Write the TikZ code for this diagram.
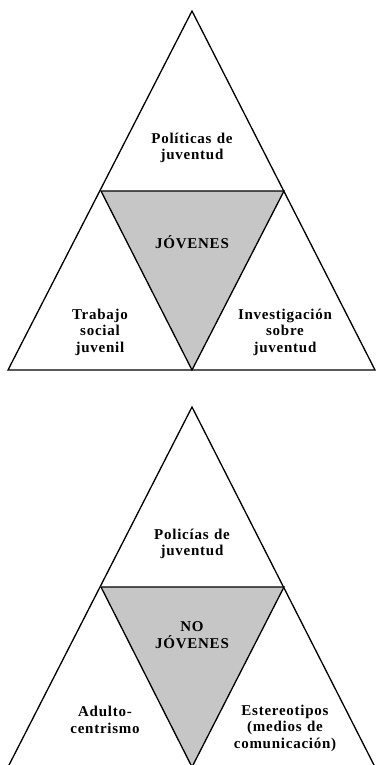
\documentclass[tikz,border=0pt]{standalone}
\usepackage{fontspec}
\setmainfont{Liberation Serif}
\newfontfamily\lblfont[LetterSpace=5,WordSpace=1.2]{Liberation Serif}
\begin{document}
\begin{tikzpicture}[x=1pt,y=-1pt,
  edge/.style={draw=black,line width=1.3pt,line join=miter},
  core/.style={fill=gray!45},
  lbl/.style={font=\lblfont\bfseries\fontsize{15}{16.5}\selectfont,align=center,inner sep=0pt,text=black}]
\useasboundingbox (0,0) rectangle (375,765);
% top triangle
\coordinate (A1) at (192,11);
\coordinate (L1) at (8,370);
\coordinate (R1) at (375,370);
\coordinate (ML1) at (101,191);
\coordinate (MR1) at (284,191);
\coordinate (MB1) at (192,370);
\fill[core] (ML1) -- (MR1) -- (MB1) -- cycle;
\draw[edge] (A1) -- (L1) -- (R1) -- cycle;
\draw[edge] (ML1) -- (MR1) -- (MB1) -- cycle;
% bottom triangle
\coordinate (A2) at (192,407);
\coordinate (L2) at (8,767);
\coordinate (R2) at (375,767);
\coordinate (ML2) at (101,587);
\coordinate (MR2) at (284,587);
\coordinate (MB2) at (192,767);
\fill[core] (ML2) -- (MR2) -- (MB2) -- cycle;
\draw[edge] (L2) -- (A2) -- (R2);
\draw[edge] (ML2) -- (MR2) -- (MB2) -- cycle;
% labels top
\node[lbl] (t1) at (192,148) {Políticas de\\juventud};
\node[lbl] (t2) at (192,242) {JÓVENES};
\node[lbl] (t3) at (100,332) {Trabajo\\social\\juvenil};
\node[lbl] (t4) at (285,332) {Investigación\\sobre\\juventud};
% labels bottom
\node[lbl] (b1) at (192,544) {Policías de\\juventud};
\node[lbl] (b2) at (192,635) {NO\\JÓVENES};
\node[lbl] (b3) at (105,720) {Adulto-\\centrismo};
\node[lbl] (b4) at (285,728) {Estereotipos\\(medios de\\comunicación)};
\end{tikzpicture}
\end{document}
